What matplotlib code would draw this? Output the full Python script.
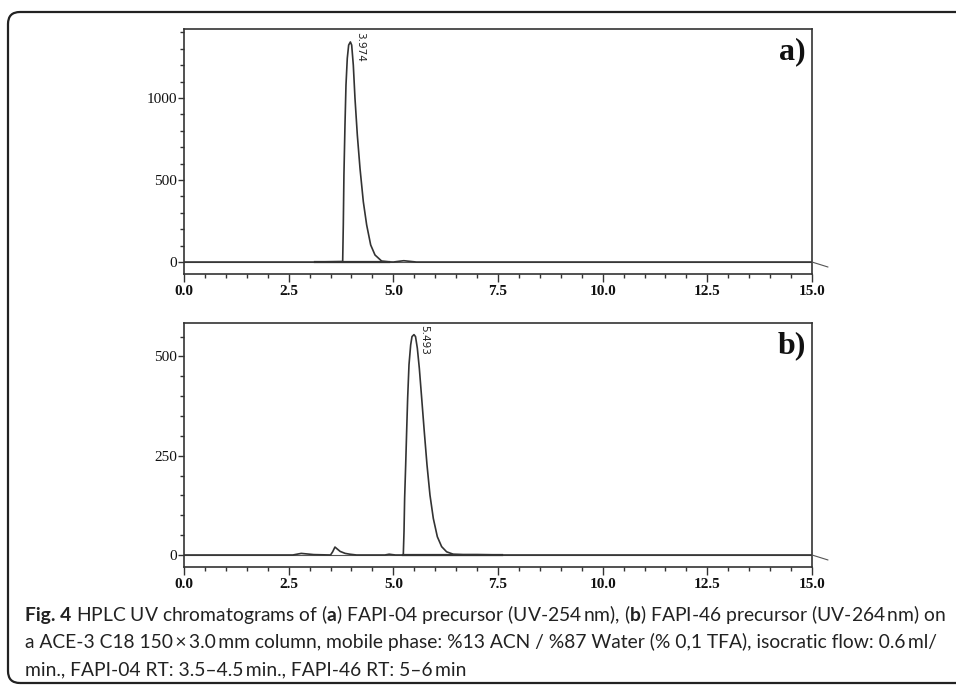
import numpy as np
import matplotlib
matplotlib.use('Agg')
import matplotlib.pyplot as plt
from matplotlib.patches import FancyBboxPatch
from matplotlib.transforms import IdentityTransform
from matplotlib.ticker import MultipleLocator, FormatStrFormatter


# chromatogram a) FAPI-04 precursor, UV-254 nm
time_a = [0.0, 3.10, 3.79, 3.805, 3.82, 3.845, 3.869, 3.90, 3.933, 3.974,
          4.005, 4.044, 4.084, 4.14, 4.204, 4.283, 4.363, 4.459, 4.562, 4.72,
          4.90, 5.0, 5.15, 5.25, 5.40, 5.55, 15.0]
signal_a = [0, 0, 3, 226, 531, 835, 1079, 1242, 1323, 1342,
            1323, 1201, 998, 774, 571, 368, 226, 104, 43, 6,
            1, 0, 5, 8, 4, 0, 0]
integ_a = [3.13, 4.90]
peak_a = (3.974, 1342, '3.974')

# chromatogram b) FAPI-46 precursor, UV-264 nm
time_b = [0.0, 2.60, 2.70, 2.80, 2.90, 3.00, 3.10, 3.50, 3.55, 3.606,
          3.65, 3.73, 3.85, 3.96, 4.12, 4.80, 4.90, 4.97, 5.05, 5.238,
          5.255, 5.27, 5.295, 5.318, 5.342, 5.374, 5.414, 5.446, 5.493, 5.53,
          5.573, 5.621, 5.677, 5.739, 5.804, 5.875, 5.955, 6.051, 6.154, 6.273,
          6.43, 6.67, 7.0, 7.6, 15.0]
signal_b = [0, 0, 2, 4, 3, 2, 1, 0, 8, 20,
            16, 9, 4, 2, 0, 0, 2, 1, 0, 0,
            59, 143, 227, 311, 395, 479, 529, 550, 555, 550,
            521, 470, 395, 311, 227, 151, 92, 46, 21, 8,
            2, 1, 1, 0, 0]
integ_b = [5.24, 7.60]
peak_b = (5.493, 555, '5.493')

caption_head = 'Fig. 4'
captions = [
    r'HPLC UV chromatograms of ($\mathbf{a}$) FAPI-04 precursor '
    '(UV-254\u2009nm), ($\\mathbf{b}$) FAPI-46 precursor (UV-264\u2009nm) on',
    'a ACE-3 C18 150\u2009\u00d7\u20093.0\u2009mm column, mobile phase: %13 ACN / %87 '
    'Water (% 0,1 TFA), isocratic flow: 0.6\u2009ml/',
    'min., FAPI-04 RT: 3.5\u20134.5\u2009min., FAPI-46 RT: 5\u20136\u2009min',
]

W, H = 956, 686
serif = 'Liberation Serif'
ink = '#333333'

plt.rcParams['mathtext.fontset'] = 'custom'
plt.rcParams['mathtext.rm'] = 'Lato'
plt.rcParams['mathtext.bf'] = 'Lato:bold'

fig = plt.figure(figsize=(W / 100, H / 100), dpi=100)

# outer rounded frame of the figure box
frame = FancyBboxPatch((8, 3), 1200, 671, boxstyle='round,pad=0,rounding_size=12',
                       transform=IdentityTransform(), fill=False, lw=1.6, ec='#222222')
fig.patches.append(frame)


def panel(rect, t, s, integ, peak, ylim, ymajor, yminor, tag):
    ax = fig.add_axes(rect)
    ax.axhline(0, color='#555555', lw=0.8, zorder=1)
    ax.plot(integ, [0, 0], color=ink, lw=1.6, zorder=2)
    ax.plot(t, s, color=ink, lw=1.2, zorder=3)
    ax.set_xlim(0, 15)
    ax.set_ylim(*ylim)
    ax.xaxis.set_major_locator(MultipleLocator(2.5))
    ax.xaxis.set_minor_locator(MultipleLocator(0.5))
    ax.xaxis.set_major_formatter(FormatStrFormatter('%.1f'))
    ax.yaxis.set_major_locator(MultipleLocator(ymajor))
    ax.yaxis.set_minor_locator(MultipleLocator(yminor))
    ax.tick_params(axis='x', which='major', direction='out', length=6, width=1,
                   color=ink, pad=2, labelsize=11, labelfontfamily=serif,
                   labelcolor='#111111')
    ax.tick_params(axis='x', which='minor', direction='out', length=3, width=1, color=ink)
    ax.tick_params(axis='y', which='major', direction='out', length=4, width=1,
                   color=ink, pad=1, labelsize=11, labelfontfamily=serif,
                   labelcolor='#111111')
    ax.tick_params(axis='y', which='minor', direction='out', length=3, width=1, color=ink)
    for sp in ax.spines.values():
        sp.set_color(ink)
        sp.set_linewidth(1.2)
    # baseline marker past the right edge
    ax.annotate('', xy=(1, 0), xycoords=('axes fraction', 'data'),
                xytext=(16, -5), textcoords='offset pixels',
                arrowprops=dict(arrowstyle='-', color='#555555', lw=0.8,
                                shrinkA=0, shrinkB=0))
    ax.annotate(peak[2], xy=(peak[0], peak[1]), xytext=(5, 10),
                textcoords='offset pixels', rotation=270, ha='left', va='top',
                fontsize=7.5, family=['Liberation Sans Narrow', 'DejaVu Sans'],
                color='#222222')
    ax.text(0.99, 0.965, tag, transform=ax.transAxes, ha='right', va='top',
            fontsize=23, fontweight='bold', family=serif, color='#111111')
    return ax


left = 184 / W
width = (812 - 184) / W
ax_a = panel([left, 1 - 274 / H, width, (274 - 29) / H], time_a, signal_a, integ_a, peak_a,
             (-73, 1421), 500, 100, 'a)')
ax_b = panel([left, 1 - 567.3 / H, width, (567.3 - 322.7) / H], time_b, signal_b, integ_b,
             peak_b, (-31, 585), 250, 50, 'b)')

# caption: bold "Fig. 4" head, rest of first line placed right after it
cap_font = ['Lato', 'DejaVu Sans']
cap_size = 13.2
baselines = [621, 648, 675]
head = fig.text(25 / W, 1 - baselines[0] / H, caption_head, fontsize=cap_size,
                family=cap_font, fontweight='bold', ha='left', va='baseline',
                color='#222222')
texts = [fig.text(25 / W, 1 - b / H, line, fontsize=cap_size, family=cap_font,
                  ha='left', va='baseline', color='#222222')
         for line, b in zip(captions[1:], baselines[1:])]
first = fig.text(0, 1 - baselines[0] / H, captions[0], fontsize=cap_size,
                 family=cap_font, ha='left', va='baseline', color='#222222')


def place_first(size):
    fig.canvas.draw()
    hb = head.get_window_extent(fig.canvas.get_renderer())
    first.set_x((hb.x1 + 0.27 * size * 100 / 72) / W)
    return hb


hb = place_first(cap_size)
fig.canvas.draw()
# scale so that the first line ends where the original does
span = first.get_window_extent(fig.canvas.get_renderer()).x1 - hb.x0
size = cap_size * 923 / span
for tx in [head, first] + texts:
    tx.set_fontsize(size)
place_first(size)

# x tick labels are printed bold in the original
for ax in (ax_a, ax_b):
    for lab in ax.get_xticklabels():
        lab.set_fontweight('bold')

fig.savefig('out.png', dpi=100)
